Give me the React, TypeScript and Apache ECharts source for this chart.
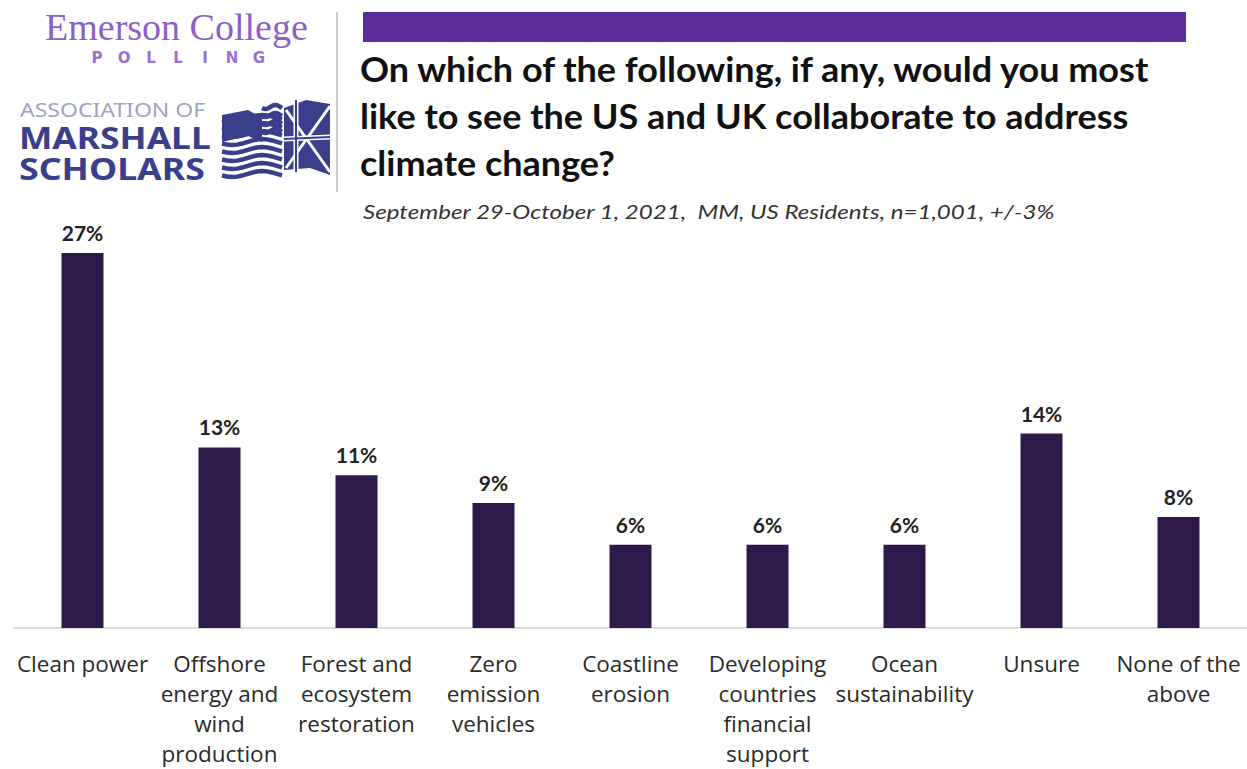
import React, { useEffect, useRef } from "react";
import * as echarts from "echarts";

const categories = [
  "Clean power",
  "Offshore\nenergy and\nwind\nproduction",
  "Forest and\necosystem\nrestoration",
  "Zero\nemission\nvehicles",
  "Coastline\nerosion",
  "Developing\ncountries\nfinancial\nsupport",
  "Ocean\nsustainability",
  "Unsure",
  "None of the\nabove",
];
const values = [27, 13, 11, 9, 6, 6, 6, 14, 8];

const titleLines = [
  "On which of the following, if any, would you most",
  "like to see the US and UK collaborate to address",
  "climate change?",
];
const subtitle = "September 29-October 1, 2021,  MM, US Residents, n=1,001, +/-3%";
const pollingLetters = ["P", "O", "L", "L", "I", "N", "G"];

function wave(x0: number, x1: number, y: number, amp: number, phase: number) {
  const pts: number[][] = [];
  for (let i = 0; i <= 12; i++) {
    const x = x0 + ((x1 - x0) * i) / 12;
    pts.push([x, y + amp * Math.sin((i / 12) * Math.PI * 2 + phase)]);
  }
  return pts;
}

function buildLogo(): any[] {
  const navy = "#3a3f8c";
  const els: any[] = [];
  els.push({
    type: "text",
    x: 45,
    y: 27,
    style: {
      text: "Emerson College",
      font: "38px 'Liberation Serif'",
      fill: "#8c5fc8",
      verticalAlign: "middle",
    },
  });
  pollingLetters.forEach((l, i) => {
    els.push({
      type: "text",
      x: 97 + i * 27,
      y: 58,
      style: {
        text: l,
        font: "bold 15px 'DejaVu Sans'",
        fill: "#9a6fd1",
        align: "center",
        verticalAlign: "middle",
      },
    });
  });
  els.push({
    type: "text",
    x: 20,
    y: 109,
    scaleX: 1.15,
    style: { text: "ASSOCIATION OF", font: "20px 'Noto Sans'", fill: "#9ea3c6", verticalAlign: "middle" },
  });
  els.push({
    type: "text",
    x: 19,
    y: 138,
    scaleX: 1.18,
    style: { text: "MARSHALL", font: "bold 30px 'Noto Sans'", fill: navy, verticalAlign: "middle" },
  });
  els.push({
    type: "text",
    x: 19,
    y: 169,
    scaleX: 1.19,
    style: { text: "SCHOLARS", font: "bold 30px 'Noto Sans'", fill: navy, verticalAlign: "middle" },
  });
  // flag: US stripes
  for (let i = 0; i < 8; i++) {
    const y = 118 + i * 8;
    els.push({
      type: "polyline",
      shape: { points: wave(222, 282, y, 3, 0.5) },
      style: { stroke: navy, lineWidth: 4.5, fill: null },
    });
  }
  els.push({
    type: "polygon",
    shape: { points: [[222, 115], [248, 110], [262, 118], [262, 142], [248, 136], [222, 142]] },
    style: { fill: navy },
  });
  for (let i = 0; i < 4; i++) {
    els.push({
      type: "polyline",
      shape: { points: wave(262, 282, 107 + i * 8, 2, 0.5) },
      style: { stroke: navy, lineWidth: 4.5, fill: null },
    });
  }
  // flag: UK part
  els.push({
    type: "polygon",
    shape: { points: [[284, 108], [306, 100], [330, 104], [330, 175], [310, 168], [284, 170]] },
    style: { fill: navy },
  });
  els.push({ type: "line", shape: { x1: 286, y1: 110, x2: 330, y2: 172 }, style: { stroke: "#fff", lineWidth: 3 } });
  els.push({ type: "line", shape: { x1: 286, y1: 168, x2: 330, y2: 106 }, style: { stroke: "#fff", lineWidth: 3 } });
  els.push({ type: "line", shape: { x1: 296, y1: 100, x2: 296, y2: 172 }, style: { stroke: "#fff", lineWidth: 5 } });
  els.push({ type: "line", shape: { x1: 284, y1: 139, x2: 330, y2: 137 }, style: { stroke: "#fff", lineWidth: 5 } });
  els.push({ type: "line", shape: { x1: 296, y1: 100, x2: 296, y2: 172 }, style: { stroke: navy, lineWidth: 2 } });
  els.push({ type: "line", shape: { x1: 284, y1: 139, x2: 330, y2: 137 }, style: { stroke: navy, lineWidth: 2 } });
  els.push({
    type: "line",
    shape: { x1: 337, y1: 12, x2: 337, y2: 192 },
    style: { stroke: "#c8c8d0", lineWidth: 2 },
  });
  return els;
}

export default function App() {
  const ref = useRef<HTMLDivElement>(null);
  useEffect(() => {
    if (!ref.current) return;
    const chart = echarts.init(ref.current, null, { renderer: "svg" });
    const graphics: any[] = [
      {
        type: "rect",
        shape: { x: 363, y: 12, width: 823, height: 30 },
        style: { fill: "#5b2d98" },
      },
      ...titleLines.map((t, i) => ({
        type: "text",
        x: 360,
        y: 68 + i * 47,
        scaleX: 1.06,
        style: {
          text: t,
          font: "bold 34px Lato",
          fill: "#111",
          verticalAlign: "middle",
        },
      })),
      {
        type: "text",
        x: 363,
        y: 212,
        scaleX: 1.27,
        style: {
          text: subtitle,
          font: "italic 19px Lato",
          fill: "#333",
          verticalAlign: "middle",
        },
      },
      ...buildLogo(),
    ];
    chart.setOption({
      animation: false,
      backgroundColor: "#fff",
      grid: { left: 14, right: 0, top: 253, bottom: 141, containLabel: false },
      xAxis: {
        type: "category",
        data: categories,
        axisLine: { show: true, lineStyle: { color: "#dcdcdc", width: 2 } },
        axisTick: { show: false },
        axisLabel: {
          interval: 0,
          fontFamily: "'Open Sans'",
          fontSize: 22.5,
          lineHeight: 30,
          color: "#2a2a2a",
          margin: 20,
        },
      },
      yAxis: { type: "value", min: 0, max: 27, show: false, splitLine: { show: false } },
      series: [
        {
          type: "bar",
          data: values,
          barWidth: 42,
          itemStyle: { color: "#2e1a4a" },
          label: {
            show: true,
            position: "top",
            distance: 10,
            formatter: "{c}%",
            fontFamily: "Lato",
            fontWeight: "bold",
            fontSize: 21,
            color: "#222",
          },
        },
      ],
      graphic: graphics,
    });
    return () => chart.dispose();
  }, []);
  return (
    <div
      ref={ref}
      style={{ position: "fixed", left: 0, top: 0, width: 1247, height: 769 }}
    />
  );
}
